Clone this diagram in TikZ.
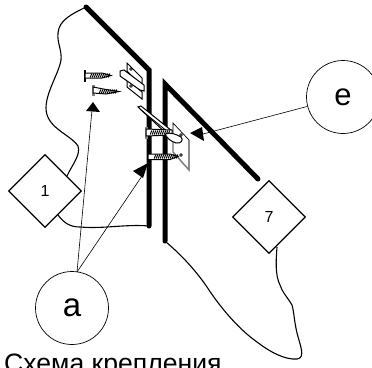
\documentclass[tikz,border=0pt]{standalone}
\usepackage{fontspec}
\setmainfont{Liberation Sans}
\usetikzlibrary{shapes.geometric}
\tikzset{
  wall/.style={line width=5pt,line join=miter,line cap=round},
  edge/.style={line width=1.1pt},
  tag/.style={draw,diamond,aspect=1,minimum size=73pt,inner sep=0pt,line width=1.3pt,font=\fontsize{16}{16}\selectfont},
  callout/.style={draw,circle,minimum size=73pt,inner sep=0pt,line width=.7pt},
  lead/.style={line width=.6pt},
  tip/.style={fill=black,draw=none},
  part/.style={draw=black,line width=1pt,fill=white},
  hatch/.style={line width=1pt}
}
\newcommand{\threads}[4]{\foreach \i in {#1,#2,...,#3} {\draw[hatch] (\i,#4) ++(.8,-2) -- ++(-1.6,4);}}
\begin{document}
\begin{tikzpicture}[x=1pt,y=-1pt]
\useasboundingbox (0,0) rectangle (372,367);
\coordinate (tipA) at (93,102);
\coordinate (tipB) at (148,163);
\coordinate (tipE) at (190,133);
% left wall
\draw[edge] (86,7) .. controls (72,14) and (59,20) .. (58,33) .. controls (57,43) and (62,50) .. (61,60) .. controls (59,73) and (46,92) .. (46,108) .. controls (46,128) and (70,134) .. (78,146) .. controls (81,155) and (72,165) .. (67,176);
\draw[edge] (58,215) .. controls (64,223) and (70,227) .. (80,227) .. controls (105,229) and (125,224) .. (149,226);
\draw[wall] (86,7) -- (149,70) -- (149,226);
% right wall
\draw[edge] (166,242) .. controls (178,252) and (194,268) .. (207,287) .. controls (222,310) and (240,330) .. (257,342) .. controls (270,352) and (285,360) .. (297,359) .. controls (306,358) and (300,345) .. (297,333) .. controls (294,320) and (294,312) .. (292,305) .. controls (288,298) and (282,292) .. (280,285) .. controls (275,275) and (276,260) .. (277,247);
\draw[wall] (258,179) -- (165,84) -- (165,241);
% left bracket
\draw[part] (127,63) -- (142,78) -- (142,86) -- (127,71) -- cycle;
\draw[part] (127,79) -- (142,92) -- (142,99) -- (127,87) -- cycle;
\draw[part] (120,71) -- (124,70) -- (144,85) -- (144,91) -- (140,90) -- (120,76) -- cycle;
\draw[line width=.7pt] (131,69) circle (1.4pt) (131,86) circle (1.4pt);
% screws on the wall
\draw[line width=1.6pt] (85,70) -- (85,82);
\draw[part] (85,73) -- (102,73) -- (111,75.5) -- (102,78) -- (85,78) -- cycle;
\threads{91}{93}{110}{75.5}
\draw[line width=2.6pt,gray] (93.5,85) -- (93.5,96);
\draw[part] (93,87) -- (106,89.5) -- (119,91.5) -- (106,94) -- (93,93) -- cycle;
\threads{100}{102}{117}{91.5}
% right plate, latch, screws
\draw[draw=black,line width=.7pt,fill=white] (173,123) -- (189,140) -- (189,170) -- (173,152) -- cycle;
\draw[gray,line width=1.4pt] (189,140) -- (189,170) -- (173,152);
\draw[line width=.7pt] (181,135) circle (1.3pt) (181,155) circle (1.3pt);
\draw[part] (138,107) -- (141,106) -- (172,131) -- (168,135) -- cycle;
\draw[line width=.9pt] (141,110) -- (168,132);
\draw[line width=3pt,gray] (146,127) -- (146,139);
\draw[part] (146,129) -- (172,130) -- (172,135) -- (146,136) -- cycle;
\threads{151}{153}{170}{132.5}
\draw[part] (165,134) .. controls (170,132) and (176,134) .. (181,137) .. controls (184,140) and (181,144) .. (176,143) .. controls (170,141) and (167,138) .. (165,134) -- cycle;
\draw[part] (148,154) -- (170,154) -- (178,156.5) -- (170,159.5) -- (148,159.5) -- cycle;
\threads{155}{157}{177}{156.5}
% callouts
\node[callout,font=\fontsize{33}{33}\selectfont] (a) at (72,308) {a};
\node[callout,font=\fontsize{31}{31}\selectfont] (e) at (343,97) {e};
\node[tag] (one) at (45,191) {1};
\node[tag] (seven) at (269,217) {7};
\draw[lead] (77,272) -- (92,110);
\draw[lead] (77,272) -- (142,176);
\draw[lead] (e) -- (203,134);
\fill[tip] (tipA) -- (100,112) -- (86,111) -- cycle;
\fill[tip] (tipB) -- (143,178) -- (133,171) -- cycle;
\fill[tip] (tipE) -- (202,127) -- (204,141) -- cycle;
\node[anchor=base west,inner sep=0pt,font=\fontsize{26.6}{26.6}\selectfont] (cap) at (4,372) {Схема крепления};
\end{tikzpicture}
\end{document}
